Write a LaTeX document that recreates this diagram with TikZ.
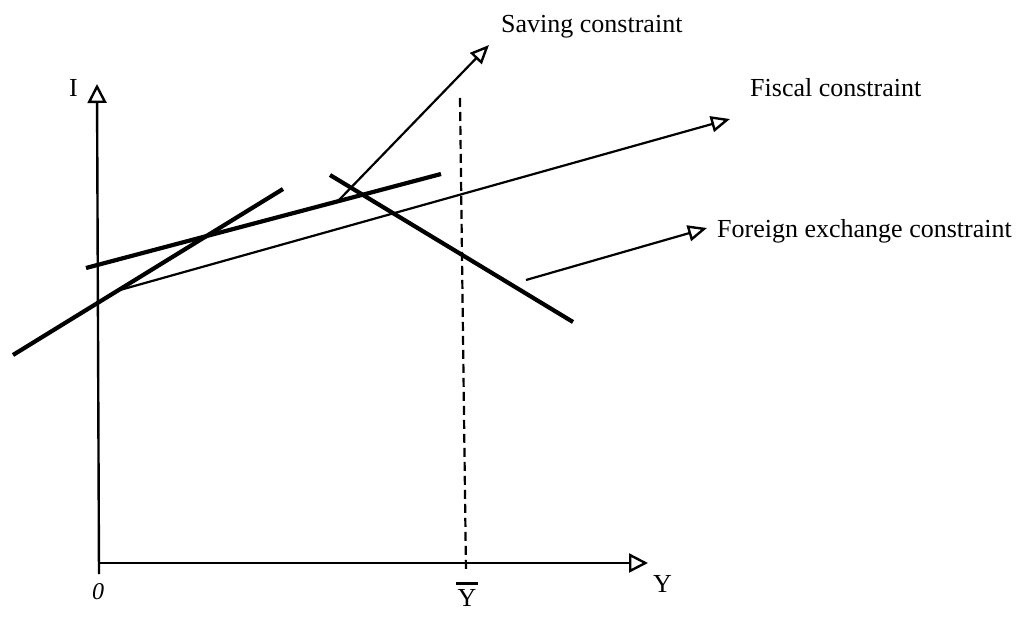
\documentclass[tikz,border=0pt]{standalone}
\usepackage{fontspec}
\setmainfont{Liberation Serif}
\usetikzlibrary{arrows.meta}

\begin{document}
\begin{tikzpicture}[
  x=1pt, y=-1pt,
  axis/.style={draw=black, line width=2.4pt, -{Triangle[open,length=19pt,width=19pt,line width=2.4pt]}},
  curve/.style={draw=black, line width=4.2pt},
  pointer/.style={draw=black, line width=2.2pt, -{Triangle[open,length=19pt,width=16pt,line width=2.4pt]}},
  guide/.style={draw=black, line width=2.2pt, dash pattern=on 9pt off 5pt},
  lbl/.style={font=\fontsize{26}{31}\selectfont, inner sep=0pt, anchor=base west}
]
\useasboundingbox (0,0) rectangle (1024,617);

%% ===================== Axes =====================
\coordinate (orig) at (99,563);
\coordinate (vbot) at (99,574);
\coordinate (ytop) at (97,84);
\coordinate (xend) at (648,563);
\draw[axis] (vbot) -- (ytop);
\draw[axis] (orig) -- (xend);
\node[lbl] (ilab) at (69,97) {I};
\node[lbl] (ylab) at (653,592) {Y};
\node[font=\fontsize{24}{28}\selectfont\itshape] (olab) at (98,592) {0};
\node[font=\fontsize{26}{31}\selectfont, inner sep=0pt, anchor=base] (ybar) at (467,606)
  {\shortstack{\rule{22pt}{2.6pt}\\[1pt]Y}};

%% ===================== Full-employment output =====================
\coordinate (dtop) at (460,98);
\coordinate (dbot) at (466,573);
\draw[guide] (dtop) -- (dbot);

%% ===================== Constraint lines =====================
\coordinate (sa) at (13,355);
\coordinate (sb) at (283,189);
\coordinate (fa) at (86,268);
\coordinate (fb) at (441,174);
\coordinate (ea) at (330,175);
\coordinate (eb) at (573,322);
\draw[curve] (sa) -- (sb);
\draw[curve] (fa) -- (fb);
\draw[curve] (ea) -- (eb);

%% ===================== Label pointers =====================
\node[lbl] (slab) at (501,33) {Saving constraint};
\node[lbl] (flab) at (750,97) {Fiscal constraint};
\node[lbl] (xlab) at (717,238) {Foreign exchange constraint};
\coordinate (sp) at (339,200);
\coordinate (st) at (489,45);
\coordinate (ga) at (120,290);
\coordinate (gt) at (730,119);
\coordinate (xp) at (526,280);
\coordinate (xt) at (707,228);
\draw[pointer] (sp) -- (st);
\draw[pointer] (ga) -- (gt);
\draw[pointer] (xp) -- (xt);

\end{tikzpicture}
\end{document}
